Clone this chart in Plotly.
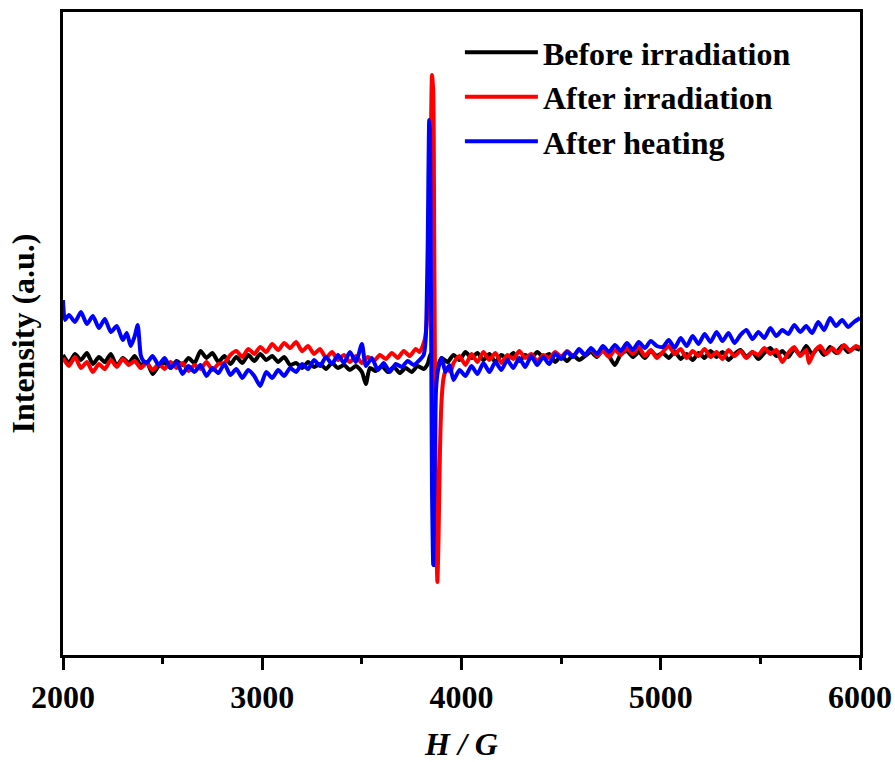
import plotly.graph_objects as go

# ---- data (field H in Gauss, intensity in arbitrary units) ----
before_x = [2000, 2030, 2060, 2090, 2120, 2150, 2180, 2210, 2240, 2270, 2300, 2330, 2360, 2390, 2420, 2450,
            2480, 2510, 2540, 2570, 2600, 2630, 2660, 2690, 2720, 2750, 2780, 2810, 2840, 2870, 2900, 2930,
            2960, 2990, 3020, 3050, 3080, 3110, 3140, 3170, 3200, 3230, 3260, 3290, 3320, 3350, 3380, 3410,
            3440, 3470, 3500, 3520, 3540, 3570, 3600, 3630, 3660, 3690, 3720, 3750, 3780, 3810, 3830, 3845,
            3865, 3885, 3900, 3930, 3960, 3990, 4020, 4050, 4080, 4110, 4140, 4170, 4200, 4230, 4260, 4290,
            4320, 4350, 4380, 4410, 4440, 4470, 4500, 4530, 4560, 4590, 4620, 4650, 4680, 4710, 4740, 4770,
            4800, 4830, 4860, 4890, 4920, 4950, 4980, 5010, 5040, 5070, 5100, 5130, 5160, 5190, 5220, 5250,
            5280, 5310, 5340, 5370, 5400, 5430, 5460, 5490, 5520, 5550, 5580, 5610, 5640, 5670, 5700, 5730,
            5760, 5790, 5820, 5850, 5880, 5910, 5940, 5970, 6000]
before_y = [5, -3, 6, 0, 7, -4, 3, -2, 6, -6, 2, -3, 4, -5, -2, -14,
            -6, -3, -8, -1, -5, 2, -3, 9, 2, 7, -2, 4, -4, 3, -3, 5,
            -1, 6, 0, 4, -2, 3, -5, -3, -8, -2, -7, -4, -9, -3, -8, -5,
            -10, -6, -12, -24, -8, -11, -6, -12, -7, -13, -8, -12, -6, -9, -4, 6,
            -14, -4, 2, -2, 5, 0, 8, 2, 7, 0, 6, -2, 5, 1, 7, -1,
            5, 2, 8, 3, 6, -2, 4, -1, 5, 0, 4, 8, 3, 10, 4, -5,
            6, 9, 3, 8, 2, 9, 4, 7, 2, 8, 1, 6, 0, 7, 2, 9,
            3, 8, 0, 6, 10, 3, 8, 1, 7, 12, 4, 9, 3, 11, 5, 14,
            6, 12, 5, 13, 7, 14, 8, 12, 10]

after_irr_x = [2000, 2030, 2060, 2090, 2120, 2150, 2180, 2210, 2240, 2270, 2300, 2330, 2360, 2390, 2420, 2450,
               2480, 2510, 2540, 2570, 2600, 2630, 2660, 2690, 2720, 2750, 2780, 2810, 2840, 2870, 2900, 2930,
               2960, 2990, 3020, 3050, 3080, 3110, 3140, 3170, 3200, 3230, 3260, 3290, 3320, 3350, 3380, 3410,
               3440, 3470, 3500, 3530, 3560, 3590, 3620, 3650, 3680, 3710, 3740, 3770, 3790, 3805, 3815, 3825,
               3835, 3845, 3852, 3858, 3863, 3868, 3873, 3879, 3885, 3892, 3900, 3910, 3925, 3945, 3960, 3990,
               4020, 4050, 4080, 4110, 4140, 4170, 4200, 4230, 4260, 4290, 4320, 4350, 4380, 4410, 4440, 4470,
               4500, 4530, 4560, 4590, 4620, 4650, 4680, 4710, 4740, 4770, 4800, 4830, 4860, 4890, 4920, 4950,
               4980, 5010, 5040, 5070, 5100, 5130, 5160, 5190, 5220, 5250, 5280, 5310, 5340, 5370, 5400, 5430,
               5460, 5490, 5520, 5550, 5580, 5610, 5640, 5670, 5700, 5730, 5744, 5770, 5800, 5830, 5860, 5890,
               5920, 5950, 5980, 6000]
after_irr_y = [2, -6, 3, -8, -2, -12, -4, -9, 0, -7, 1, -5, -1, -8, -3, -10,
               -4, -9, -2, -8, -3, -11, -5, -9, -2, -10, -4, -3, 5, 9, 3, 11,
               6, 13, 8, 16, 10, 17, 12, 18, 9, 14, 6, 11, 2, 8, 0, 5,
               -2, 4, -3, 3, -1, 5, 1, 7, 2, 9, 4, 11, 8, 14, 20, 35,
               90, 200, 285, 270, 120, -50, -170, -222, -175, -90, -40, -18, -8, -12, -3, 4,
               -5, 6, -2, 8, 0, 7, -3, 5, 1, 9, 2, 6, -1, 5, 2, 8,
               3, 9, 4, 10, 5, 11, 4, 9, 3, 10, 5, 12, 6, 13, 4, 10,
               2, 8, 14, 6, 11, 2, 9, 4, 11, 3, 8, 1, 10, 4, 9, 2,
               8, 5, 12, 6, 10, -2, 7, 13, 4, 10, -3, 8, 14, 6, 12, 7,
               15, 9, 14, 12]

after_heat_x = [2000, 2010, 2030, 2060, 2090, 2120, 2150, 2180, 2210, 2240, 2270, 2300, 2320, 2340, 2360, 2375,
                2390, 2400, 2420, 2450, 2480, 2510, 2540, 2570, 2600, 2630, 2660, 2690, 2720, 2750, 2780, 2810,
                2840, 2870, 2900, 2930, 2960, 2990, 3020, 3050, 3080, 3110, 3140, 3170, 3200, 3230, 3260, 3290,
                3320, 3350, 3380, 3410, 3440, 3470, 3500, 3520, 3550, 3580, 3610, 3640, 3670, 3700, 3730, 3760,
                3790, 3810, 3820, 3830, 3838, 3842, 3847, 3852, 3858, 3864, 3872, 3882, 3900, 3920, 3940, 3960,
                3990, 4020, 4050, 4080, 4110, 4140, 4170, 4200, 4230, 4260, 4290, 4320, 4350, 4380, 4410, 4440,
                4470, 4500, 4530, 4560, 4590, 4620, 4650, 4680, 4710, 4740, 4770, 4800, 4830, 4860, 4890, 4920,
                4950, 4980, 5010, 5040, 5070, 5100, 5130, 5160, 5190, 5220, 5250, 5280, 5310, 5340, 5370, 5400,
                5430, 5460, 5490, 5520, 5550, 5580, 5610, 5640, 5670, 5700, 5730, 5760, 5790, 5820, 5850, 5880,
                5910, 5940, 5970, 6000]
after_heat_y = [60, 40, 45, 38, 48, 36, 44, 32, 41, 28, 34, 20, 27, 14, 24, 35,
                5, 0, -3, 4, -5, 2, -8, -2, -14, -6, -12, -5, -16, -8, -13, -4,
                -15, -9, -18, -10, -16, -26, -12, -18, -10, -16, -8, -12, -4, -9, 0, -6,
                3, -4, 5, -3, 8, -2, 16, -6, 2, -10, -3, -12, -4, -7, -1, -5,
                0, 5, 20, 110, 240, 225, 60, -130, -205, -125, -30, -10, 2, -12, -5, -20,
                -10, -16, -6, -14, -3, -12, -2, -10, 0, -8, 2, -7, 4, -5, 3, -4,
                6, 1, 8, 3, 11, 5, 12, 6, 14, 8, 15, 9, 17, 10, 18, 12,
                19, 14, 13, 20, 12, 22, 14, 24, 16, 26, 18, 28, 19, 27, 17, 25,
                30, 21, 28, 22, 32, 24, 30, 26, 35, 28, 34, 27, 38, 30, 42, 34,
                40, 33, 38, 42]

series_names = ["Before irradiation", "After irradiation", "After heating"]
series_colors = ["#000000", "#ff0000", "#0000ff"]
x_tick_vals = [2000, 3000, 4000, 5000, 6000]
x_tick_text = ["2000", "3000", "4000", "5000", "6000"]

FONT = "Liberation Serif, Times New Roman, serif"

fig = go.Figure()
for name, color, xs, ys in zip(series_names, series_colors,
                               [before_x, after_irr_x, after_heat_x],
                               [before_y, after_irr_y, after_heat_y]):
    fig.add_trace(go.Scatter(x=xs, y=ys, mode="lines", name=name,
                             line=dict(color=color, width=4, shape="spline", smoothing=0.6)))

fig.update_layout(
    width=895, height=762,
    margin=dict(l=63, r=35, t=12, b=107),
    paper_bgcolor="white", plot_bgcolor="white",
    font=dict(family=FONT, size=32, color="black", weight="bold"),
    showlegend=True,
    legend=dict(x=0.498, y=0.98, xanchor="left", yanchor="top", itemwidth=73,
                bgcolor="rgba(0,0,0,0)", borderwidth=0,
                font=dict(family=FONT, size=32, color="black", weight="bold")),
)
fig.update_xaxes(
    range=[2000, 6000], tickvals=x_tick_vals, ticktext=x_tick_text, automargin=False,
    showline=True, mirror=True, linecolor="black", linewidth=2.5,
    ticks="outside", ticklen=12, tickwidth=2.5, tickcolor="black",
    minor=dict(dtick=500, ticks="outside", ticklen=6, tickwidth=2.5, tickcolor="black", showgrid=False),
    showgrid=False, zeroline=False,
    tickfont=dict(family=FONT, size=32, color="black", weight="bold"),
    title=dict(text="<i>H</i><i> / </i><i>G</i>", standoff=25,
               font=dict(family=FONT, size=32, color="black", weight="bold")),
)
fig.update_yaxes(
    range=[-295, 348], automargin=False,
    showline=True, mirror=True, linecolor="black", linewidth=2.5,
    ticks="", showticklabels=False, showgrid=False, zeroline=False,
    title=dict(text="Intensity (a.u.)", standoff=17,
               font=dict(family=FONT, size=32, color="black", weight="bold")),
)

fig.write_html("out.html")
